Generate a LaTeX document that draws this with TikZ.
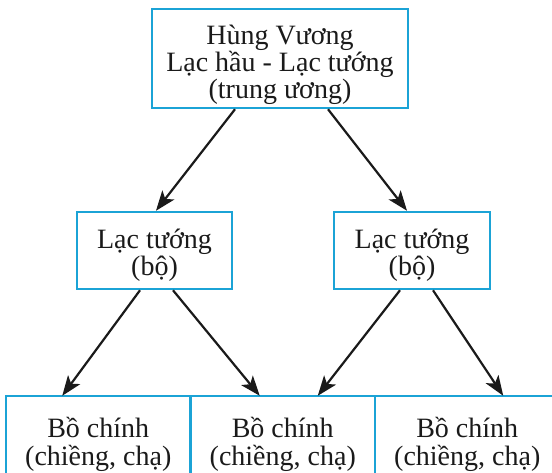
\documentclass[tikz,border=0pt]{standalone}
\usepackage{fontspec}
\setmainfont{Liberation Serif}
\usepackage{tikz}
\usetikzlibrary{arrows.meta}
\definecolor{frame}{HTML}{1BA3D6}
\definecolor{ink}{HTML}{1A1A1A}
\tikzset{
  box/.style={draw=frame, line width=2.5pt, inner sep=0pt},
  txt/.style={align=center, inner sep=0pt, text=ink, font=\fontsize{28}{24}\selectfont},
  wide/.style={txt, font=\fontsize{28}{28}\selectfont},
  open/.style={draw=frame, line width=2.5pt},
  arr/.style={draw=ink, line width=2.2pt, -{Stealth[length=20pt,width=15pt,inset=5pt]}},
}
\begin{document}
\begin{tikzpicture}[x=1pt,y=-1pt]
  \useasboundingbox (0,0) rectangle (552,473);
  \node[box, minimum width=256, minimum height=99,
    label={[txt, yshift=-6pt]center:Hùng Vương\\Lạc hầu - Lạc tướng\\(trung ương)}] (hv) at (280,58.5) {};
  \node[box, minimum width=155, minimum height=77,
    label={[txt, font=\fontsize{28}{25}\selectfont, yshift=-5pt]center:Lạc tướng\\(bộ)}] (lt1) at (154.5,250.5) {};
  \node[box, minimum width=156, minimum height=77,
    label={[txt, font=\fontsize{28}{25}\selectfont, yshift=-5pt]center:Lạc tướng\\(bộ)}] (lt2) at (412,250.5) {};
  % bottom row, open at the foot
  \foreach \i/\x in {1/98.25,2/282.75,3/467.25}{
    \node[inner sep=0pt, minimum width=184.5, minimum height=72,
      label={[wide, yshift=-12pt]center:Bồ chính\\(chiềng, chạ)}] (bc\i) at (\x,432) {};
    \draw[open] ([yshift=-30pt]bc\i.south west) |- (bc\i.north east) -- ([yshift=-30pt]bc\i.south east);
  }
  \draw[arr] ([xshift=-45pt]hv.south) -- ([xshift=1.5pt]lt1.north);
  \draw[arr] ([xshift=48pt]hv.south) -- ([xshift=-5pt]lt2.north);
  \draw[arr] ([xshift=-14.5pt]lt1.south) -- ([xshift=-36pt]bc1.north);
  \draw[arr] ([xshift=18.5pt]lt1.south) -- ([xshift=-23pt]bc2.north);
  \draw[arr] ([xshift=-12pt]lt2.south) -- ([xshift=35pt]bc2.north);
  \draw[arr] ([xshift=21pt]lt2.south) -- ([xshift=36pt]bc3.north);
\end{tikzpicture}
\end{document}
